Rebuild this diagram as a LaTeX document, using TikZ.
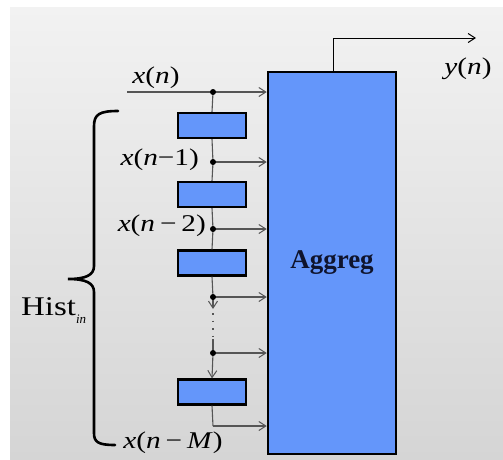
\documentclass[tikz,border=0pt]{standalone}
\usepackage{fontspec}
\setmainfont{Liberation Serif}
\usetikzlibrary{arrows.meta}
\definecolor{boxblue}{RGB}{100,150,250}
\definecolor{bgtop}{RGB}{242,242,242}
\definecolor{bgbot}{RGB}{213,213,213}
\definecolor{sigcol}{RGB}{85,85,85}
\definecolor{aggtext}{RGB}{15,20,45}
\newcommand{\mi}[1]{\textit{#1}}
\newcommand{\hwide}[1]{\scalebox{1.22}[1]{#1}}
\begin{document}
\begin{tikzpicture}[x=1pt,y=-1pt,
  sig/.style={draw=sigcol, line width=1.1pt},
  sigarrow/.style={sig, -{Straight Barb[length=7pt,width=9pt,line width=1pt]}},
  outarrow/.style={draw=black, line width=1pt, -{Straight Barb[length=7pt,width=9pt,line width=1pt]}},
  delaybox/.style={draw=black, line width=2.2pt, fill=boxblue, minimum width=68pt, minimum height=25pt, inner sep=0pt},
  aggbox/.style={draw=black, line width=2.5pt, fill=boxblue, minimum width=128pt, minimum height=382pt, inner sep=0pt,
    font=\fontsize{27}{30}\selectfont\bfseries, text=aggtext},
  lab/.style={inner sep=0pt, font=\fontsize{24}{28}\selectfont},
  dotc/.style={fill=black}
]
\useasboundingbox (0,0) rectangle (503,459);
\fill[white] (0,0) rectangle (503,459);
\shade[top color=bgtop, bottom color=bgbot] (10,7) rectangle (503,459);

% aggregator
\node[aggbox] (agg) at (332,263) {Aggreg};

% delay boxes
\node[delaybox] (b1) at (212,125.5) {};
\node[delaybox] (b2) at (212,194.5) {};
\node[delaybox] (b3) at (212,263) {};
\node[delaybox] (b4) at (212,392) {};

% tap points
\coordinate (in) at (127,92);
\coordinate (d0) at (213,92);
\coordinate (d1) at (213,162);
\coordinate (d2) at (213,229);
\coordinate (d3) at (213,297);
\coordinate (d4) at (213,353);
\coordinate (t5) at (213,426);
\coordinate (ga) at (213,309);
\coordinate (gb) at (213,313);
\coordinate (gc) at (213,336);
\coordinate (gd) at (213,339);

% input line and taps
\draw[sigarrow] (in) -- (in -| agg.west);
\draw[sig] (d0) -- (b1.north);
\draw[sig] (b1.south) -- (d1);
\draw[sigarrow] (d1) -- (d1 -| agg.west);
\draw[sig] (d1) -- (b2.north);
\draw[sig] (b2.south) -- (d2);
\draw[sigarrow] (d2) -- (d2 -| agg.west);
\draw[sig] (d2) -- (b3.north);
\draw[sig] (b3.south) -- (d3);
\draw[sigarrow] (d3) -- (d3 -| agg.west);
\draw[sigarrow] (d3) -- (ga);
\draw[sig, dash pattern=on 1.5pt off 6pt] (gb) -- (gc);
\draw[sig] (gd) -- (d4);
\draw[sigarrow] (d4) -- (d4 -| agg.west);
\draw[sigarrow] (d4) -- (b4.north);
\draw[sig] (b4.south) -- (t5);
\draw[sigarrow] (t5) -- (t5 -| agg.west);

\foreach \d in {d0,d1,d2,d3,d4} \fill[dotc] (\d) circle (3pt);

% output
\coordinate (o1) at (333,38);
\coordinate (o2) at (476,38);
\draw[outarrow] (agg.north -| o1) -- (o1) -- (o2);

% labels
\node[lab] (lxn) at (156,78) {\hwide{\mi{x}(\mi{n})}};
\node[lab] (lyn) at (468,69) {\hwide{\mi{y}(\mi{n})}};
\node[lab, anchor=east] (lx1) at (199,160) {\hwide{\mi{x}(\mi{n}−1)}};
\node[lab, anchor=east] (lx2) at (206,226) {\hwide{\mi{x}(\mi{n}\,−\,2)}};
\node[lab] (lxm) at (173,443) {\hwide{\mi{x}(\mi{n}\,−\,\mi{M})}};
\node[lab, anchor=base west, font=\fontsize{27}{30}\selectfont] (hist) at (21,315)
  {\hwide{Hist}\raisebox{-8pt}{\fontsize{13}{13}\selectfont\mi{in}}};

% brace
\draw[black, line width=2.6pt, line cap=round]
  (118,111) .. controls (100,111) and (94,114) .. (94,126)
  -- (94,266) .. controls (94,275) and (86,279) .. (68,279)
  .. controls (86,279) and (94,283) .. (94,292)
  -- (94,433) .. controls (94,442) and (98,445) .. (115,445);
\end{tikzpicture}
\end{document}
